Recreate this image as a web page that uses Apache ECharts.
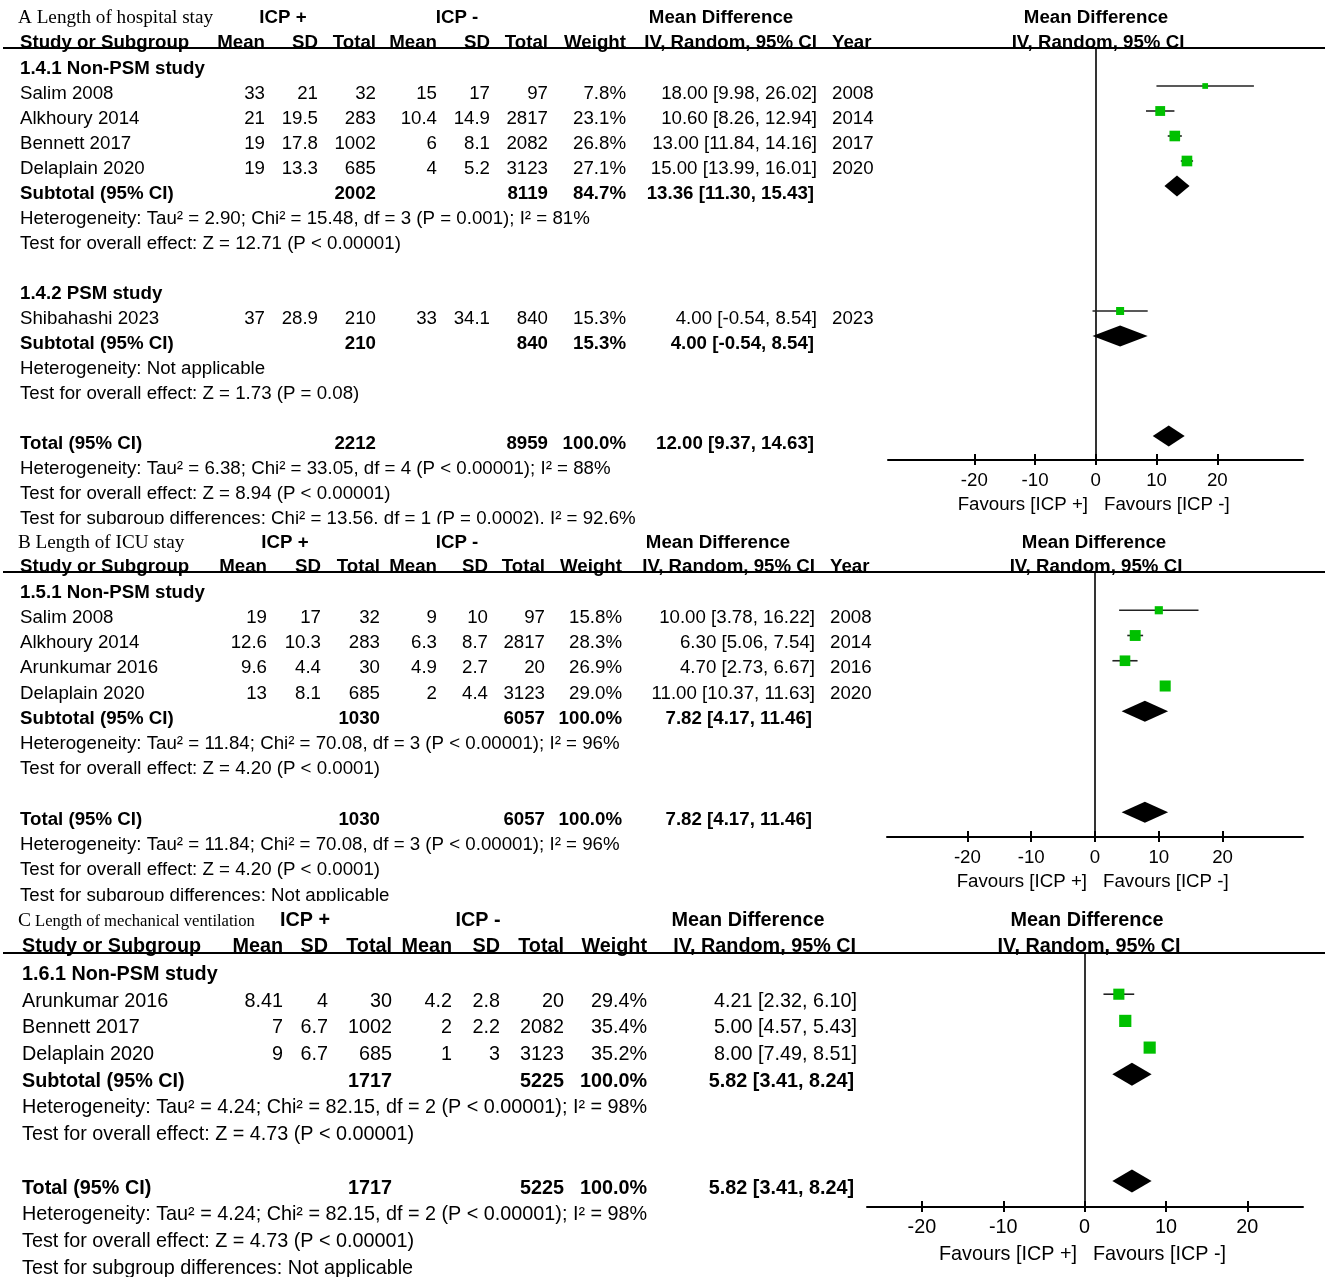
<!DOCTYPE html>
<html><head><meta charset="utf-8">
<script src="https://cdn.jsdelivr.net/npm/echarts@6/dist/echarts.min.js"></script>
<style>html,body{margin:0;padding:0;background:#fff}#c{width:1325px;height:1277px}</style>
</head><body><div id="c"></div>
<script>
// ================= DATA =================
// Panel A: Length of hospital stay
const A_title = 'A Length of hospital stay';
const A_studies = ['Salim 2008','Alkhoury 2014','Bennett 2017','Delaplain 2020','Shibahashi 2023'];
const A_posMean = [33,21,19,19,37];
const A_posSD   = [21,19.5,17.8,13.3,28.9];
const A_posN    = [32,283,1002,685,210];
const A_negMean = [15,10.4,6,4,33];
const A_negSD   = [17,14.9,8.1,5.2,34.1];
const A_negN    = [97,2817,2082,3123,840];
const A_weight  = [7.8,23.1,26.8,27.1,15.3];
const A_md      = [18.00,10.60,13.00,15.00,4.00];
const A_lo      = [9.98,8.26,11.84,13.99,-0.54];
const A_hi      = [26.02,12.94,14.16,16.01,8.54];
const A_year    = [2008,2014,2017,2020,2023];
const A_sumLabels = ['Subtotal (95% CI)','Subtotal (95% CI)','Total (95% CI)'];
const A_sumPosN = [2002,210,2212];
const A_sumNegN = [8119,840,8959];
const A_sumW    = [84.7,15.3,100.0];
const A_sumMd   = [13.36,4.00,12.00];
const A_sumLo   = [11.30,-0.54,9.37];
const A_sumHi   = [15.43,8.54,14.63];
const A_groups  = ['1.4.1 Non-PSM study','1.4.2 PSM study'];
const A_notes = [
  'Heterogeneity: Tau\u00b2 = 2.90; Chi\u00b2 = 15.48, df = 3 (P = 0.001); I\u00b2 = 81%',
  'Test for overall effect: Z = 12.71 (P < 0.00001)',
  'Heterogeneity: Not applicable',
  'Test for overall effect: Z = 1.73 (P = 0.08)',
  'Heterogeneity: Tau\u00b2 = 6.38; Chi\u00b2 = 33.05, df = 4 (P < 0.00001); I\u00b2 = 88%',
  'Test for overall effect: Z = 8.94 (P < 0.00001)',
  'Test for subgroup differences: Chi\u00b2 = 13.56, df = 1 (P = 0.0002), I\u00b2 = 92.6%'
];

// Panel B: Length of ICU stay
const B_title = 'B Length of ICU stay';
const B_studies = ['Salim 2008','Alkhoury 2014','Arunkumar 2016','Delaplain 2020'];
const B_posMean = [19,12.6,9.6,13];
const B_posSD   = [17,10.3,4.4,8.1];
const B_posN    = [32,283,30,685];
const B_negMean = [9,6.3,4.9,2];
const B_negSD   = [10,8.7,2.7,4.4];
const B_negN    = [97,2817,20,3123];
const B_weight  = [15.8,28.3,26.9,29.0];
const B_md      = [10.00,6.30,4.70,11.00];
const B_lo      = [3.78,5.06,2.73,10.37];
const B_hi      = [16.22,7.54,6.67,11.63];
const B_year    = [2008,2014,2016,2020];
const B_sumLabels = ['Subtotal (95% CI)','Total (95% CI)'];
const B_sumPosN = [1030,1030];
const B_sumNegN = [6057,6057];
const B_sumW    = [100.0,100.0];
const B_sumMd   = [7.82,7.82];
const B_sumLo   = [4.17,4.17];
const B_sumHi   = [11.46,11.46];
const B_groups  = ['1.5.1 Non-PSM study'];
const B_notes = [
  'Heterogeneity: Tau\u00b2 = 11.84; Chi\u00b2 = 70.08, df = 3 (P < 0.00001); I\u00b2 = 96%',
  'Test for overall effect: Z = 4.20 (P < 0.0001)',
  'Heterogeneity: Tau\u00b2 = 11.84; Chi\u00b2 = 70.08, df = 3 (P < 0.00001); I\u00b2 = 96%',
  'Test for overall effect: Z = 4.20 (P < 0.0001)',
  'Test for subgroup differences: Not applicable'
];

// Panel C: Length of mechanical ventilation
const C_titleLetter = 'C';
const C_title = 'Length of mechanical ventilation';
const C_studies = ['Arunkumar 2016','Bennett 2017','Delaplain 2020'];
const C_posMean = [8.41,7,9];
const C_posSD   = [4,6.7,6.7];
const C_posN    = [30,1002,685];
const C_negMean = [4.2,2,1];
const C_negSD   = [2.8,2.2,3];
const C_negN    = [20,2082,3123];
const C_weight  = [29.4,35.4,35.2];
const C_md      = [4.21,5.00,8.00];
const C_lo      = [2.32,4.57,7.49];
const C_hi      = [6.10,5.43,8.51];
const C_sumLabels = ['Subtotal (95% CI)','Total (95% CI)'];
const C_sumPosN = [1717,1717];
const C_sumNegN = [5225,5225];
const C_sumW    = [100.0,100.0];
const C_sumMd   = [5.82,5.82];
const C_sumLo   = [3.41,3.41];
const C_sumHi   = [8.24,8.24];
const C_groups  = ['1.6.1 Non-PSM study'];
const C_notes = [
  'Heterogeneity: Tau\u00b2 = 4.24; Chi\u00b2 = 82.15, df = 2 (P < 0.00001); I\u00b2 = 98%',
  'Test for overall effect: Z = 4.73 (P < 0.00001)',
  'Heterogeneity: Tau\u00b2 = 4.24; Chi\u00b2 = 82.15, df = 2 (P < 0.00001); I\u00b2 = 98%',
  'Test for overall effect: Z = 4.73 (P < 0.00001)',
  'Test for subgroup differences: Not applicable'
];

// Shared labels
const colHeaders = ['Mean','SD','Total','Mean','SD','Total','Weight'];
const xTicks = [-20,-10,0,10,20];
const favLeft = 'Favours [ICP +]';
const favRight = 'Favours [ICP -]';

// ================= LAYOUT =================
const SANS = '"Liberation Sans", Arial, sans-serif';
const SERIF = '"Liberation Serif", "Times New Roman", serif';
const GREEN = '#00c000';
const TY = 2.5; // vertical text nudge
const panels = [
  { // A
    studies:A_studies, posMean:A_posMean, posSD:A_posSD, posN:A_posN, negMean:A_negMean, negSD:A_negSD, negN:A_negN,
    weight:A_weight, md:A_md, lo:A_lo, hi:A_hi, year:A_year,
    sumLabels:A_sumLabels, sumPosN:A_sumPosN, sumNegN:A_sumNegN, sumW:A_sumW, sumMd:A_sumMd, sumLo:A_sumLo, sumHi:A_sumHi,
    groups:A_groups, notes:A_notes,
    fs:18.7, textY0:66, dy:25, markY0:61,
    studyRows:[1,2,3,4,10], sumRows:[5,11,15], groupRows:[0,9], noteRows:[6,7,12,13,16,17,18],
    titleY:15, headY:40, lineY:48, leftX:20,
    cols:[265,318,376,437,490,548,626], ciX:817, ciHeadX:817, yearX:832,
    icpPos:283, icpNeg:457, mdHead:721, rightHead:1096,
    axisY:460, plotL:888, plotR:1303, xmin:-34.2, xmax:34.1, zeroX:1096, diamH:10.5, favY:502
  },
  { // B
    studies:B_studies, posMean:B_posMean, posSD:B_posSD, posN:B_posN, negMean:B_negMean, negSD:B_negSD, negN:B_negN,
    weight:B_weight, md:B_md, lo:B_lo, hi:B_hi, year:B_year,
    sumLabels:B_sumLabels, sumPosN:B_sumPosN, sumNegN:B_sumNegN, sumW:B_sumW, sumMd:B_sumMd, sumLo:B_sumLo, sumHi:B_sumHi,
    groups:B_groups, notes:B_notes,
    fs:18.7, textY0:590, dy:25.25, markY0:585,
    studyRows:[1,2,3,4], sumRows:[5,9], groupRows:[0], noteRows:[6,7,10,11,12],
    titleY:540, headY:564, lineY:572, leftX:20,
    cols:[267,321,380,437,488,545,622], ciX:815, ciHeadX:815, yearX:830,
    icpPos:285, icpNeg:457, mdHead:718, rightHead:1094,
    axisY:837, plotL:887, plotR:1303, xmin:-32.6, xmax:32.6, zeroX:1095, diamH:10.5, favY:879
  },
  { // C
    studies:C_studies, posMean:C_posMean, posSD:C_posSD, posN:C_posN, negMean:C_negMean, negSD:C_negSD, negN:C_negN,
    weight:C_weight, md:C_md, lo:C_lo, hi:C_hi, year:null,
    sumLabels:C_sumLabels, sumPosN:C_sumPosN, sumNegN:C_sumNegN, sumW:C_sumW, sumMd:C_sumMd, sumLo:C_sumLo, sumHi:C_sumHi,
    groups:C_groups, notes:C_notes,
    fs:19.8, textY0:972, dy:26.7, markY0:967.5,
    studyRows:[1,2,3], sumRows:[4,8], groupRows:[0], noteRows:[5,6,9,10,11],
    titleY:918, headY:944, lineY:953, leftX:22,
    cols:[283,328,392,452,500,564,647], ciX:857, ciHeadX:856, yearX:null,
    icpPos:305, icpNeg:478, mdHead:748, rightHead:1087,
    axisY:1207, plotL:867, plotR:1303, xmin:-26.75, xmax:26.85, zeroX:1085, diamH:11.5, favY:1252
  }
];

// ================= BUILD =================
const graphics = [];
function txt(x, y, text, o) {
  o = o || {};
  graphics.push({
    type:'text', z:10,
    style:{
      x:x, y:y + TY, text:String(text), fill:'#000',
      fontSize:o.size || 18, fontWeight:o.bold ? 'bold' : 'normal',
      fontFamily:o.family || SANS,
      textAlign:o.align || 'left', textVerticalAlign:'middle'
    }
  });
}
function hline(x1, x2, y, w) {
  graphics.push({type:'line', z:11, shape:{x1:x1, y1:y, x2:x2, y2:y}, style:{stroke:'#000', lineWidth:w || 1.6}});
}
function whiteRect(x, y, w, h) {
  graphics.push({type:'rect', z:20, shape:{x:x, y:y, width:w, height:h}, style:{fill:'#fff'}});
}
const f2 = v => v.toFixed(2);
const ciStr = (m, l, h) => f2(m) + ' [' + f2(l) + ', ' + f2(h) + ']';

// Titles
txt(18, panels[0].titleY, A_title, {family:SERIF, size:19.2});
txt(18, panels[1].titleY, B_title, {family:SERIF, size:19.2});
txt(18, panels[2].titleY, C_titleLetter, {family:SERIF, size:19.5});
txt(35, panels[2].titleY + 1, C_title, {family:SERIF, size:16.6});

const grids = [], xAxes = [], yAxes = [], series = [];

panels.forEach((p, pi) => {
  const fs = p.fs;
  const ty = r => p.textY0 + p.dy * r;
  // group headers
  txt(p.icpPos, p.titleY, 'ICP +', {bold:true, size:fs, align:'center'});
  txt(p.icpNeg, p.titleY, 'ICP -', {bold:true, size:fs, align:'center'});
  txt(p.mdHead, p.titleY, 'Mean Difference', {bold:true, size:fs, align:'center'});
  txt(p.rightHead, p.titleY, 'Mean Difference', {bold:true, size:fs, align:'center'});
  // column headers
  txt(p.leftX, p.headY, 'Study or Subgroup', {bold:true, size:fs});
  colHeaders.forEach((h, i) => txt(p.cols[i], p.headY, h, {bold:true, size:fs, align:'right'}));
  txt(p.ciHeadX, p.headY, 'IV, Random, 95% CI', {bold:true, size:fs, align:'right'});
  if (p.yearX) txt(p.yearX, p.headY, 'Year', {bold:true, size:fs});
  txt(p.rightHead + 2, p.headY, 'IV, Random, 95% CI', {bold:true, size:fs, align:'center'});
  hline(3, 1325, p.lineY, 1.8);

  // subgroup names
  p.groups.forEach((g, i) => txt(p.leftX, ty(p.groupRows[i]), g, {bold:true, size:fs}));
  // studies
  p.studies.forEach((s, i) => {
    const y = ty(p.studyRows[i]);
    txt(p.leftX, y, s, {size:fs});
    const vals = [p.posMean[i], p.posSD[i], p.posN[i], p.negMean[i], p.negSD[i], p.negN[i], p.weight[i].toFixed(1) + '%'];
    vals.forEach((v, k) => txt(p.cols[k], y, v, {size:fs, align:'right'}));
    txt(p.ciX, y, ciStr(p.md[i], p.lo[i], p.hi[i]), {size:fs, align:'right'});
    if (p.year) txt(p.yearX, y, p.year[i], {size:fs});
  });
  // summaries
  p.sumLabels.forEach((s, i) => {
    const y = ty(p.sumRows[i]);
    txt(p.leftX, y, s, {bold:true, size:fs});
    txt(p.cols[2], y, p.sumPosN[i], {bold:true, size:fs, align:'right'});
    txt(p.cols[5], y, p.sumNegN[i], {bold:true, size:fs, align:'right'});
    txt(p.cols[6], y, p.sumW[i].toFixed(1) + '%', {bold:true, size:fs, align:'right'});
    txt(p.ciX - 3, y, ciStr(p.sumMd[i], p.sumLo[i], p.sumHi[i]), {bold:true, size:fs, align:'right'});
  });
  // notes
  p.notes.forEach((n, i) => txt(p.leftX, ty(p.noteRows[i]), n, {size:fs}));

  // favours
  txt(p.zeroX - 8, p.favY, favLeft, {size:fs, align:'right'});
  txt(p.zeroX + 8, p.favY, favRight, {size:fs, align:'left'});

  // grid for forest plot
  const ymin = (p.lineY - p.markY0) / p.dy;
  const ymax = (p.axisY - p.markY0) / p.dy;
  grids.push({left:p.plotL, width:p.plotR - p.plotL, top:p.lineY, height:p.axisY - p.lineY, containLabel:false});
  xAxes.push({
    gridIndex:pi, type:'value', min:p.xmin, max:p.xmax, position:'bottom',
    axisLine:{show:true, onZero:false, lineStyle:{color:'#000', width:2}},
    axisTick:{show:true, customValues:xTicks, length:5, lineStyle:{color:'#000', width:2}},
    axisLabel:{show:true, customValues:xTicks, color:'#000', fontSize:fs, fontFamily:SANS, margin:11},
    splitLine:{show:false}
  });
  xAxes.push({
    gridIndex:pi, type:'value', min:p.xmin, max:p.xmax, position:'bottom',
    axisLine:{show:false, onZero:false},
    axisTick:{show:true, inside:true, customValues:xTicks, length:6, lineStyle:{color:'#000', width:2}},
    axisLabel:{show:false}, splitLine:{show:false}
  });
  yAxes.push({
    gridIndex:pi, type:'value', inverse:true, min:ymin, max:ymax,
    axisLine:{show:true, onZero:true, lineStyle:{color:'#000', width:1.6}},
    axisTick:{show:false}, axisLabel:{show:false}, splitLine:{show:false}
  });

  const studyData = p.studies.map((s, i) => [p.md[i], p.lo[i], p.hi[i], p.studyRows[i], p.weight[i]]);
  const sumData = p.sumLabels.map((s, i) => [p.sumMd[i], p.sumLo[i], p.sumHi[i], p.sumRows[i]]);
  series.push({
    type:'custom', xAxisIndex:pi * 2, yAxisIndex:pi, silent:true, z:5,
    encode:{x:[0,1,2], y:3},
    data:studyData,
    renderItem:function(params, api) {
      const row = api.value(3);
      const c = api.coord([api.value(0), row]);
      const l = api.coord([api.value(1), row]);
      const h = api.coord([api.value(2), row]);
      const s = 2.05 * Math.sqrt(api.value(4));
      return {type:'group', children:[
        {type:'line', shape:{x1:l[0], y1:c[1], x2:h[0], y2:c[1]}, style:{stroke:'#222', lineWidth:1.6}},
        {type:'rect', shape:{x:c[0] - s / 2, y:c[1] - s / 2, width:s, height:s}, style:{fill:GREEN}}
      ]};
    }
  });
  const dh = p.diamH;
  series.push({
    type:'custom', xAxisIndex:pi * 2, yAxisIndex:pi, silent:true, z:5,
    encode:{x:[0,1,2], y:3},
    data:sumData,
    renderItem:function(params, api) {
      const row = api.value(3);
      const c = api.coord([api.value(0), row]);
      const l = api.coord([api.value(1), row]);
      const h = api.coord([api.value(2), row]);
      return {type:'polygon', shape:{points:[[l[0], c[1]], [c[0], c[1] - dh], [h[0], c[1]], [c[0], c[1] + dh]]},
              style:{fill:'#000'}};
    }
  });
});

// Clip the last (cut-off) lines of panels A and B as in the reference
whiteRect(0, 524, 880, 6);
whiteRect(0, 901, 880, 6);

const chart = echarts.init(document.getElementById('c'), null, {renderer:'canvas'});
chart.setOption({
  animation:false,
  backgroundColor:'#fff',
  grid:grids, xAxis:xAxes, yAxis:yAxes, series:series,
  graphic:graphics
});
</script>
</body></html>
